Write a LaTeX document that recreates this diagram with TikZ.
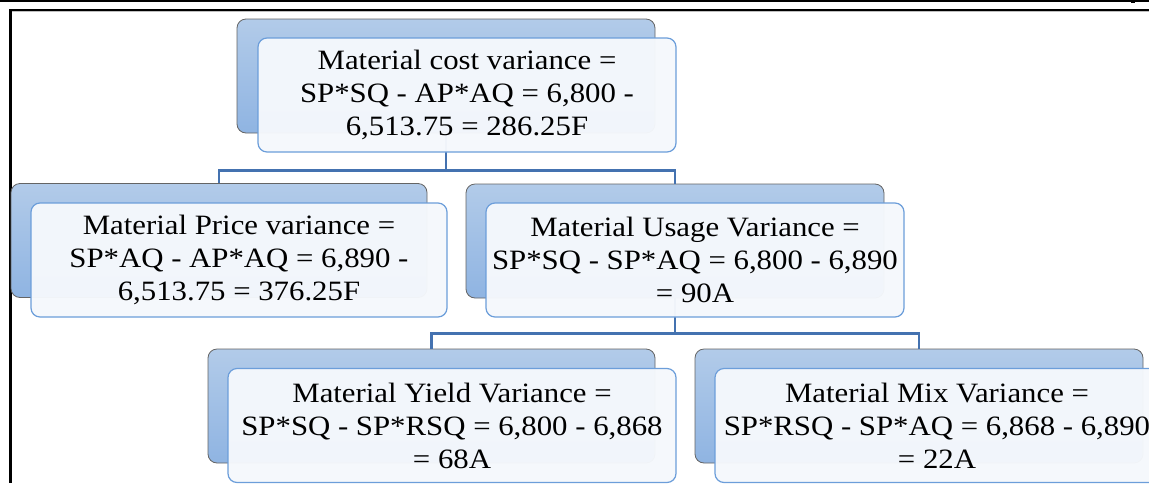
\documentclass[tikz,border=0pt]{standalone}
\usepackage{fontspec}
\setmainfont[FakeStretch=1.1]{Liberation Serif}
\definecolor{backtop}{RGB}{178,203,233}
\definecolor{backbot}{RGB}{143,180,226}
\definecolor{backline}{RGB}{100,100,100}
\definecolor{frontfill}{RGB}{245,248,252}
\definecolor{frontline}{RGB}{108,158,218}
\definecolor{connc}{RGB}{68,114,176}
\begin{document}
\begin{tikzpicture}[x=1pt,y=-1pt,
  backbox/.style={draw=backline, line width=0.8pt, rounded corners=9pt,
    top color=backtop, bottom color=backbot, minimum height=114pt, inner sep=0pt},
  frontbox/.style={draw=frontline, line width=1.2pt, rounded corners=9pt,
    fill=frontfill, fill opacity=0.97, text opacity=1, minimum height=114pt,
    inner sep=0pt, align=center, font=\fontsize{28}{33}\selectfont},
  conn/.style={draw=connc, line width=2.6pt}]
\useasboundingbox (0,0) rectangle (1149,483);
\clip (0,0) rectangle (1149,483);
% page frame
\fill[white] (0,0) rectangle (1149,483);
\fill[black] (0,0) rectangle (1149,1.8);
\fill[black] (1131,0) rectangle (1135,3.2);
\draw[black!25, line width=1pt] (10,11.3) -- (1149,11.3);
\draw[black, line width=1.4pt] (9,9.8) -- (1149,9.8);
\draw[black, line width=2.4pt] (10.3,9) -- (10.3,483);
% back boxes
\node[backbox, minimum width=418pt] (topB) at (446,76) {};
\node[backbox, minimum width=416pt] (priceB) at (219,240.5) {};
\node[backbox, minimum width=418pt] (usageB) at (675,241) {};
\node[backbox, minimum width=447pt] (yieldB) at (431.5,406) {};
\node[backbox, minimum width=448pt] (mixB) at (919,406) {};
% connectors
\draw[conn] (topB.south) -- ++(0,37) -| (priceB.north);
\draw[conn] (topB.south) ++(0,37) -| (usageB.north);
\draw[conn] (usageB.south) -- ++(0,35) -| (yieldB.north);
\draw[conn] (usageB.south) ++(0,35) -| (mixB.north);
% front boxes
\node[frontbox, minimum width=418pt] (topF) at (467,95)
  {Material cost variance =\\SP*SQ - AP*AQ = 6,800 -\\6,513.75 = 286.25F};
\node[frontbox, minimum width=416pt] (priceF) at (239,260)
  {Material Price variance =\\SP*AQ - AP*AQ = 6,890 -\\6,513.75 = 376.25F};
\node[frontbox, minimum width=418pt] (usageF) at (695,260)
  {Material Usage Variance =\\SP*SQ - SP*AQ = 6,800 - 6,890\\= 90A};
\node[frontbox, minimum width=448pt] (yieldF) at (452,425.5)
  {Material Yield Variance =\\SP*SQ - SP*RSQ = 6,800 - 6,868\\= 68A};
\node[frontbox, minimum width=448pt] (mixF) at (939,425.5) {};
\node[font=\fontsize{28}{33}\selectfont, align=center, inner sep=0pt] (mixT) at (937,425.5)
  {Material Mix Variance =\\SP*RSQ - SP*AQ = 6,868 - 6,890\\= 22A};
\end{tikzpicture}
\end{document}
